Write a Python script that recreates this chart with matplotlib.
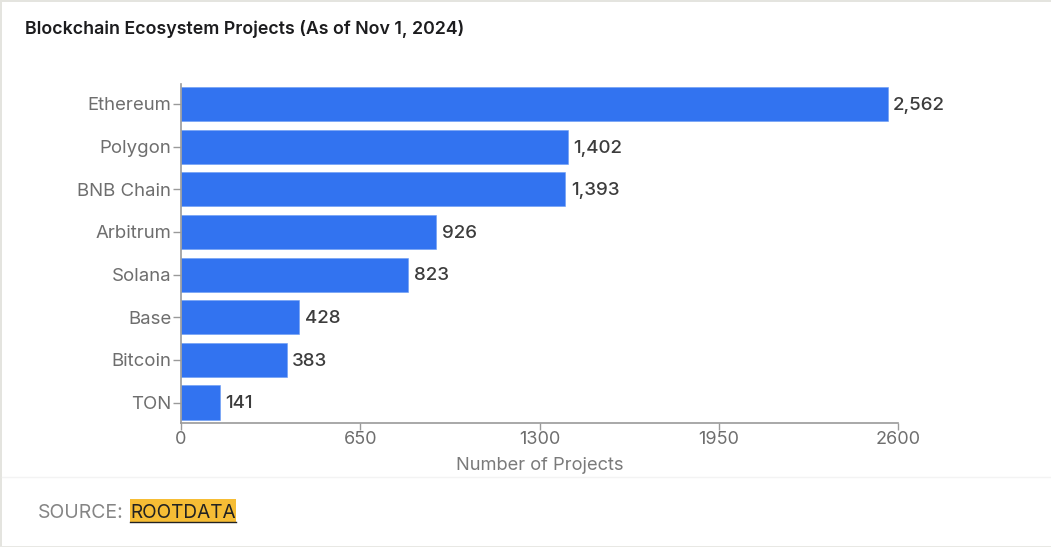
import matplotlib
matplotlib.use("Agg")
import matplotlib.pyplot as plt
from matplotlib.patches import Rectangle
from matplotlib.lines import Line2D

plt.rcParams['font.family'] = ['Inter', 'DejaVu Sans']

chains = ["Ethereum", "Polygon", "BNB Chain", "Arbitrum", "Solana", "Base", "Bitcoin", "TON"]
project_counts = [2562, 1402, 1393, 926, 823, 428, 383, 141]
x_ticks = [0, 650, 1300, 1950, 2600]

W, H = 1051, 547

fig = plt.figure(figsize=(W / 100, H / 100), dpi=100, facecolor='white')


# helpers, everything outside the axes is placed in pixels from the top left
def px_x(x):
    return x / W


def px_y(y):
    return 1 - y / H


ax = fig.add_axes([px_x(181), px_y(423), (898 - 181) / W, (423 - 83.5) / H])

ax.barh(chains, project_counts, height=0.8, color='#3273f0', edgecolor='#6b9cf5', linewidth=0.4)
ax.set_xlim(0, 2600)
ax.set_ylim(7.48, -0.48)

for i, count in enumerate(project_counts):
    ax.annotate(f"{count:,}", xy=(count, i), xytext=(4, -1), textcoords='offset points',
                va='center', ha='left', fontsize=13.5, color='#3c3c3c', fontweight='medium')

ax.spines['top'].set_visible(False)
ax.spines['right'].set_visible(False)
ax.spines['left'].set_color('#9a9a9a')
ax.spines['bottom'].set_color('#9a9a9a')
ax.spines['left'].set_linewidth(1.2)
ax.spines['bottom'].set_linewidth(1.2)

ax.set_xticks(x_ticks)
ax.set_xticklabels([str(t) for t in x_ticks])
ax.tick_params(axis='x', length=5, width=1, color='#9a9a9a', labelcolor='#6e6e6e', labelsize=13, pad=1)
ax.tick_params(axis='y', length=6, width=1, color='#9a9a9a', labelcolor='#6e6e6e', labelsize=13.4, pad=1)
ax.set_xlabel("Number of Projects", fontsize=13.2, color='#7a7a7a', labelpad=6)

fig.text(px_x(25), px_y(29), "Blockchain Ecosystem Projects (As of Nov 1, 2024)",
         fontsize=12.8, fontweight='semibold', color='#1c1c1e', va='center', ha='left')

# page frame: grey strips and the faint divider above the source line
fig.add_artist(Rectangle((0, 0), 2 / W, 1, transform=fig.transFigure, color='#e4e4df', lw=0))
fig.add_artist(Rectangle((0, px_y(1.5)), 1, 1.5 / H, transform=fig.transFigure, color='#e4e4df', lw=0))
fig.add_artist(Rectangle((0, 0), 1, 1.5 / H, transform=fig.transFigure, color='#e8e8e4', lw=0))
fig.add_artist(Line2D([2 / W, 1], [px_y(477), px_y(477)], color='#f3f3f3', lw=1))

# source line
fig.add_artist(Rectangle((px_x(130), px_y(523)), 106 / W, 24 / H, transform=fig.transFigure,
                         color='#f6bd35', lw=0))
fig.text(px_x(38), px_y(513), "SOURCE:", fontsize=14, color='#858585', va='center', ha='left')
fig.text(px_x(130.5), px_y(513), "ROOTDATA", fontsize=13.7, color='#222222', va='center', ha='left')
fig.add_artist(Line2D([px_x(130), px_x(236)], [px_y(521.5), px_y(521.5)], color='#222222', lw=1))

fig.savefig("out.png", dpi=100)
plt.close()
